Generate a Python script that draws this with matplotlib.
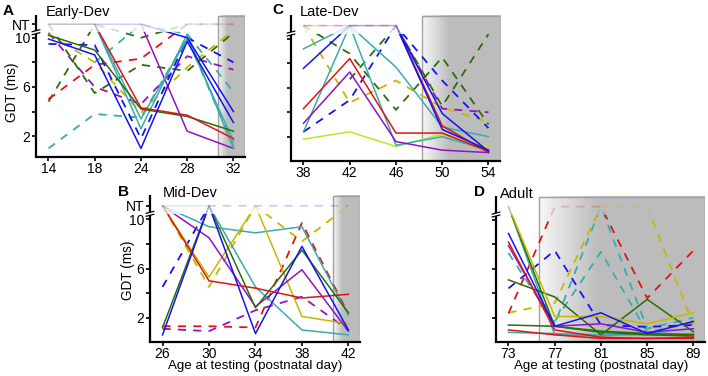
import numpy as np
import matplotlib
matplotlib.use("Agg")
import matplotlib.pyplot as plt
from matplotlib.patches import Rectangle
from matplotlib.transforms import blended_transform_factory

plt.rcParams['font.family'] = ['Liberation Sans', 'DejaVu Sans']

NT = 11.1      # "no threshold" level drawn above the axis break
BREAK = 10.45
nan = np.nan

COLORS = {
    "blue": "#1414f0", "red": "#e01414", "green": "#2e6b0a", "purple": "#9312c4",
    "teal": "#3aabb0", "olive": "#c4b800", "yg": "#c8e21e",
}

# Early-Dev (panel A)
early_days = [14, 18, 24, 28, 32]
early_lines = [
    ("teal", "--", [1.0, 3.8, 3.5, 10.0, 1.2]),
    ("teal", "--", [nan, 8.0, NT, 10.3, 5.6]),
    ("purple", "--", [10.4, 6.0, 4.6, 8.5, 7.4]),
    ("olive", "--", [10.3, 8.0, 3.9, 7.6, 10.6]),
    ("green", "--", [4.8, NT, 10.0, NT, NT]),
    ("green", "--", [NT, 5.5, 7.8, 7.3, 10.4]),
    ("red", "--", [5.0, 7.8, 8.3, NT, NT]),
    ("blue", "--", [9.5, 9.4, 1.8, 10.0, 8.0]),
    ("purple", "-", [nan, nan, NT, 2.4, 1.0]),
    ("teal", "-", [NT, NT, 2.6, 10.3, 1.0]),
    ("teal", "-", [nan, NT, 3.4, 9.9, 1.6]),
    ("green", "-", [10.2, 9.0, 4.2, 3.6, 2.4]),
    ("red", "-", [NT, NT, 4.3, 3.7, 1.8]),
    ("blue", "-", [9.9, 8.6, 1.0, 9.7, 3.1]),
    ("blue", "-", [nan, NT, NT, 10.0, 4.0]),
]

# Mid-Dev (panel B)
mid_days = [26, 30, 34, 38, 42]
mid_lines = [
    ("blue", "--", [4.5, NT, NT, NT, NT]),
    ("olive", "--", [NT, 4.5, NT, 8.2, NT]),
    ("purple", "--", [1.1, 0.9, 2.6, 3.7, 1.0]),
    ("red", "--", [1.3, 1.3, 1.2, 9.7, 2.3]),
    ("teal", "-", [NT, 9.4, 8.9, 9.4, 2.2]),
    ("teal", "-", [NT, NT, 4.5, 1.0, 0.6]),
    ("olive", "-", [NT, 5.3, NT, 2.1, 1.5]),
    ("purple", "-", [NT, 8.5, 2.9, 5.9, 0.9]),
    ("red", "-", [NT, 5.0, 4.4, 3.6, 3.9]),
    ("green", "-", [1.2, NT, 2.8, 7.5, 2.4]),
    ("blue", "-", [0.6, NT, 0.7, 7.8, 1.0]),
]

# Late-Dev (panel C)
late_days = [38, 42, 46, 50, 54]
late_lines = [
    ("purple", "--", [NT, NT, NT, 4.3, 4.0]),
    ("olive", "--", [NT, 4.8, 6.6, 4.4, 3.2]),
    ("green", "--", [NT, 8.8, 4.2, 8.5, 3.0]),
    ("green", "--", [nan, 6.7, NT, 4.5, 10.4]),
    ("blue", "--", [2.4, 5.0, NT, 6.6, 2.7]),
    ("yg", "-", [1.8, 2.4, 1.2, 2.2, 1.2]),
    ("teal", "-", [9.2, NT, 7.7, 2.8, 2.0]),
    ("teal", "-", [2.4, NT, 1.3, 2.0, 0.9]),
    ("purple", "-", [3.1, 7.3, 1.6, 0.9, 0.7]),
    ("red", "-", [4.3, 8.4, 2.3, 2.3, 0.8]),
    ("red", "-", [NT, NT, NT, 2.9, 0.7]),
    ("blue", "-", [7.6, NT, NT, 3.9, 0.8]),
    ("blue", "-", [nan, nan, NT, 2.6, 0.9]),
]

# Adult (panel D)
adult_days = [73, 77, 81, 85, 89]
adult_lines = [
    ("teal", "--", [7.3, 1.5, NT, 1.1, 2.0]),
    ("teal", "--", [nan, 1.7, 7.4, 0.8, 1.6]),
    ("olive", "--", [2.4, 3.2, NT, NT, 1.4]),
    ("red", "--", [2.35, NT, NT, 3.6, 7.5]),
    ("blue", "--", [4.4, 7.5, 1.4, 1.25, 1.4]),
    ("teal", "-", [NT, 0.6, 0.5, 0.8, 0.6]),
    ("teal", "-", [0.8, 0.7, 0.6, 0.6, 0.7]),
    ("green", "-", [NT, 1.3, 0.8, 0.6, 0.5]),
    ("green", "-", [1.4, 1.3, 0.9, 0.7, 0.6]),
    ("green", "-", [5.1, 3.7, 0.6, 3.5, 0.85]),
    ("olive", "-", [NT, 2.1, 2.1, 1.5, 2.4]),
    ("purple", "-", [7.9, 1.3, 1.5, 0.8, 1.1]),
    ("red", "-", [8.2, 1.0, 0.4, 0.3, 0.4]),
    ("red", "-", [1.0, 0.6, 0.3, 0.3, 0.3]),
    ("blue", "-", [8.9, 1.3, 2.4, 0.7, 1.7]),
]

W, H = 708, 376
fig = plt.figure(figsize=(W / 100, H / 100), dpi=100)


def px_axes(left, top, right, bottom):
    return fig.add_axes([left / W, 1 - bottom / H, (right - left) / W, (bottom - top) / H])


def ftext(x, y, s, **kw):
    fig.text(x / W, 1 - y / H, s, va='center', **kw)


def panel(ax, days, lines, ylim, box_x0, labels):
    xlim = (-0.27, 4.25)
    # grey box with soft left edge
    t = np.linspace(0, 1, 300)
    ramp = np.clip(t / 0.35, 0, 1)
    grey = 0.74
    level = 0.97 - (0.97 - grey) * ramp
    img = np.stack([level, level, level], axis=-1)[None, :, :].repeat(2, axis=0)
    ax.imshow(img, extent=(box_x0, xlim[1], ylim[0], ylim[1] - 0.05),
              aspect='auto', zorder=0.5, interpolation='bilinear')
    ax.add_patch(Rectangle((box_x0, ylim[0]), xlim[1] - box_x0, ylim[1] - 0.05 - ylim[0],
                           fill=False, ec='#a0a0a0', lw=1.0, zorder=0.6))

    for cname, ls, vals in lines:
        y = np.array(vals, float)
        x = np.arange(len(y))
        m = ~np.isnan(y)
        style = '-' if ls == '-' else (0, (4.5, 4))
        lw = 1.1 if ls == '-' else 1.3
        for lo, hi, a in [(ylim[0] - 1, BREAK, 1.0), (BREAK, ylim[1] + 1, 0.22)]:
            ln, = ax.plot(x[m], y[m], color=COLORS[cname], ls=style, lw=lw,
                          alpha=a, zorder=3)
            ln.set_clip_path(Rectangle((-1, lo), 7, hi - lo, transform=ax.transData))

    ax.set_xlim(*xlim)
    ax.set_ylim(*ylim)
    ax.set_xticks(range(len(days)))
    ax.set_xticklabels([str(d) for d in days])
    if labels:
        ax.set_yticks([2, 4, 6, 8, 10, NT])
        ax.set_yticklabels(['2', '', '6', '', '10', 'NT'])
    else:
        ax.set_yticks([2, 4, 6, 8, 10])
        ax.set_yticklabels([])
    ax.tick_params(axis='both', labelsize=10, width=1.2, direction='out')
    ax.tick_params(axis='y', length=3, pad=1)
    ax.tick_params(axis='x', length=3, pad=0.5)
    for s in ['top', 'right', 'left']:
        ax.spines[s].set_visible(False)
    ax.spines['bottom'].set_linewidth(1.6)

    # broken left spine
    tr = blended_transform_factory(ax.transAxes, ax.transData)
    ax.plot([0, 0], [ylim[0], BREAK - 0.12], color='k', lw=1.6, transform=tr,
            clip_on=False, solid_capstyle='butt', zorder=5)
    ax.plot([0, 0], [BREAK + 0.12, ylim[1]], color='k', lw=1.6, transform=tr,
            clip_on=False, solid_capstyle='butt', zorder=5)
    for dy in (-0.12, 0.12):
        ax.plot([-0.018, 0.018], [BREAK + dy - 0.08, BREAK + dy + 0.08], color='k',
                lw=0.9, transform=tr, clip_on=False, zorder=5)


axA = px_axes(36, 15, 245, 157)
panel(axA, early_days, early_lines, (0.3, 11.85), 3.67, True)
axC = px_axes(291, 15, 500, 161)
panel(axC, late_days, late_lines, (0.01, 11.97), 2.56, False)
axB = px_axes(150, 195, 360, 342)
panel(axB, mid_days, mid_lines, (0.02, 11.98), 3.67, True)
axD = px_axes(496, 196, 705, 342)
panel(axD, adult_days, adult_lines, (0.01, 11.97), 0.67, False)

# axis titles
ftext(12, 92, 'GDT (ms)', fontsize=9.8, rotation=90, ha='center')
ftext(128, 270, 'GDT (ms)', fontsize=9.8, rotation=90, ha='center')
ftext(255, 366, 'Age at testing (postnatal day)', fontsize=9.6, ha='center')
ftext(601, 366, 'Age at testing (postnatal day)', fontsize=9.6, ha='center')

# panel letters and group names
ftext(3, 11, 'A', fontsize=11, fontweight='bold')
ftext(46, 12, 'Early-Dev', fontsize=10.5)
ftext(272, 10, 'C', fontsize=11, fontweight='bold')
ftext(300, 12, 'Late-Dev', fontsize=10.5)
ftext(118, 192, 'B', fontsize=11, fontweight='bold')
ftext(163, 193, 'Mid-Dev', fontsize=10.5)
ftext(474, 192, 'D', fontsize=11, fontweight='bold')
ftext(500, 194, 'Adult', fontsize=10.5)

fig.savefig('out.png', dpi=100)
